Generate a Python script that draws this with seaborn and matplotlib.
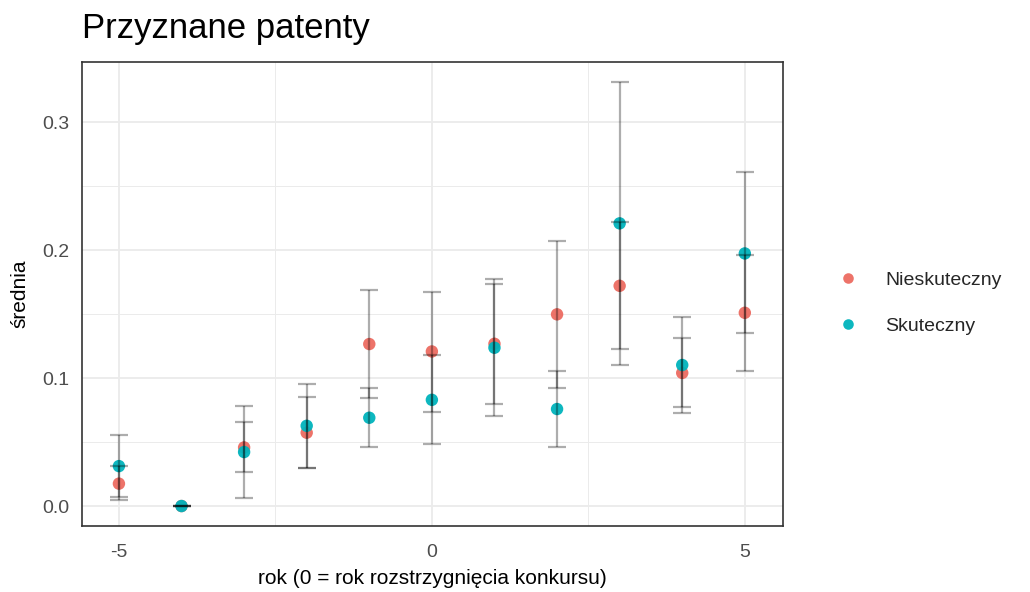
import matplotlib
matplotlib.use("Agg")
import matplotlib.pyplot as plt
import seaborn as sns
import pandas as pd
import numpy as np

years = [-5, -4, -3, -2, -1, 0, 1, 2, 3, 4, 5]
groups = ["Nieskuteczny", "Skuteczny"]
mean_nieskuteczny = [0.0175, 0.0, 0.0458, 0.0573, 0.1266, 0.1208, 0.1268, 0.1498, 0.1721, 0.1040, 0.1510]
lo_nieskuteczny = [0.0047, 0.0, 0.0263, 0.0294, 0.0846, 0.0737, 0.0797, 0.0924, 0.1224, 0.0776, 0.1055]
hi_nieskuteczny = [0.0310, 0.0, 0.0654, 0.0854, 0.1690, 0.1674, 0.1732, 0.2070, 0.2218, 0.1315, 0.1965]
mean_skuteczny = [0.0312, 0.0, 0.0422, 0.0627, 0.0690, 0.0830, 0.1237, 0.0758, 0.2209, 0.1102, 0.1974]
lo_skuteczny = [0.0073, 0.0, 0.0065, 0.0294, 0.0458, 0.0487, 0.0706, 0.0463, 0.1102, 0.0724, 0.1349]
hi_skuteczny = [0.0557, 0.0, 0.0784, 0.0953, 0.0924, 0.1180, 0.1773, 0.1055, 0.3310, 0.1479, 0.2607]

df = pd.DataFrame({
    "rok": years * 2,
    "grupa": [groups[0]] * len(years) + [groups[1]] * len(years),
    "srednia": mean_nieskuteczny + mean_skuteczny,
    "lo": lo_nieskuteczny + lo_skuteczny,
    "hi": hi_nieskuteczny + hi_skuteczny,
})

sns.set_theme(style="whitegrid")
plt.rcParams["font.family"] = ["Liberation Sans", "DejaVu Sans"]

fig = plt.figure(figsize=(10.3, 5.92), dpi=100)
ax = fig.add_axes([82 / 1030, 1 - 526 / 592, (783 - 82) / 1030, (526 - 62) / 592])

palette = {"Nieskuteczny": "#EC6B61", "Skuteczny": "#00B3BC"}

sns.scatterplot(data=df, x="rok", y="srednia", hue="grupa", palette=palette,
                s=80, alpha=0.95, edgecolor="none", ax=ax, zorder=3)

for g in groups:
    sub = df[df["grupa"] == g]
    ax.errorbar(sub["rok"], sub["srednia"],
                yerr=[sub["srednia"] - sub["lo"], sub["hi"] - sub["srednia"]],
                fmt="none", ecolor="black", alpha=0.32, elinewidth=1.6,
                capsize=6.5, capthick=1.6, zorder=4)

ax.set_xlim(-5.59, 5.61)
ax.set_ylim(-0.0156, 0.347)
ax.set_xticks([-5, 0, 5])
ax.set_xticklabels(["-5", "0", "5"])
ax.set_yticks([0.0, 0.1, 0.2, 0.3])
ax.set_yticklabels(["0.0", "0.1", "0.2", "0.3"])
ax.set_xticks([-2.5, 2.5], minor=True)
ax.set_yticks([0.05, 0.15, 0.25], minor=True)
ax.grid(which="major", color="#EBEBEB", linewidth=1.3)
ax.grid(which="minor", color="#EBEBEB", linewidth=0.7)
ax.set_facecolor("white")
for s in ax.spines.values():
    s.set_color("#333333")
    s.set_linewidth(1.2)
ax.tick_params(axis="both", which="major", length=5, width=1.1, color="#333333",
               labelsize=14, labelcolor="#4D4D4D", pad=4)
ax.tick_params(axis="x", which="major", pad=8)
ax.tick_params(which="minor", length=0)

ax.set_xlabel("rok (0 = rok rozstrzygnięcia konkursu)", fontsize=15, color="black", labelpad=6)
ax.set_ylabel("średnia", fontsize=15, color="black", labelpad=9)

fig.text(82 / 1030, 1 - 38 / 592, "Przyznane patenty", fontsize=25, va="baseline", ha="left", color="black")

handles, labels = ax.get_legend_handles_labels()
ax.legend(handles, labels, loc="center left", bbox_to_anchor=(1.04, 0.48), frameon=False,
          fontsize=14, markerscale=0.85, handletextpad=0.9, labelspacing=1.45, title=None)

fig.savefig("out.png", dpi=100, facecolor="white")
